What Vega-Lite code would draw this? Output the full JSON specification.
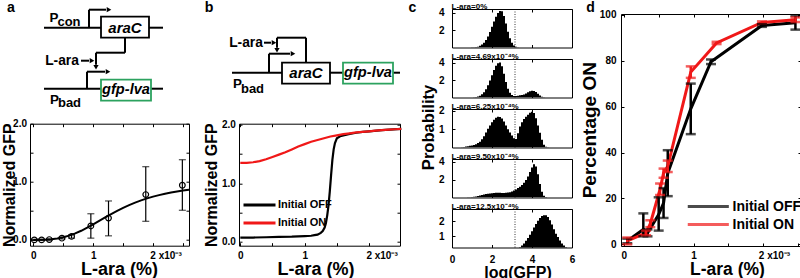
{
  "$schema": "https://vega.github.io/schema/vega-lite/v6.json",
  "background": "white",
  "padding": {"left": 0, "top": 0, "right": 0, "bottom": 0},
  "spacing": 0,
  "resolve": {"scale": {"color": "independent", "stroke": "independent", "size": "independent"}, "legend": {"color": "independent"}},
  "config": {
    "font": "Liberation Sans",
    "view": {"stroke": "black", "strokeWidth": 1},
    "axis": {"grid": false, "domain": false, "tickColor": "black", "tickSize": -3, "tickWidth": 1, "labelFont": "Liberation Sans", "labelFontSize": 10, "labelFontWeight": "bold", "labelColor": "black", "titleFont": "Liberation Sans", "titleFontWeight": "bold", "titleColor": "black", "labelOverlap": false, "labelFlush": false},
    "legend": {"labelFont": "Liberation Sans", "labelFontWeight": "bold", "labelColor": "black", "symbolStrokeWidth": 3, "padding": 0, "rowPadding": 0},
    "title": {"font": "Liberation Sans", "fontWeight": "bold", "color": "black"}
  },
  "datasets": {
    "seg": [
      {"panel": "a", "x": 43, "y": 27, "x2": 100, "y2": 27},
      {"panel": "a", "x": 148, "y": 27, "x2": 162, "y2": 27},
      {"panel": "a", "x": 88, "y": 27, "x2": 88, "y2": 9},
      {"panel": "a", "x": 88, "y": 9, "x2": 105, "y2": 9},
      {"panel": "a", "x": 124, "y": 37, "x2": 124, "y2": 52},
      {"panel": "a", "x": 124, "y": 52, "x2": 95, "y2": 52},
      {"panel": "a", "x": 95, "y": 52, "x2": 95, "y2": 64},
      {"panel": "a", "x": 80, "y": 60, "x2": 88, "y2": 60},
      {"panel": "a", "x": 86, "y": 88, "x2": 86, "y2": 71},
      {"panel": "a", "x": 86, "y": 71, "x2": 104, "y2": 71},
      {"panel": "a", "x": 43, "y": 88, "x2": 100, "y2": 88},
      {"panel": "a", "x": 150, "y": 88, "x2": 162, "y2": 88},
      {"panel": "b", "x": 230, "y": 72, "x2": 280, "y2": 72},
      {"panel": "b", "x": 328, "y": 72, "x2": 341, "y2": 72},
      {"panel": "b", "x": 391, "y": 72, "x2": 398, "y2": 72},
      {"panel": "b", "x": 267, "y": 72, "x2": 267, "y2": 53},
      {"panel": "b", "x": 267, "y": 53, "x2": 288, "y2": 53},
      {"panel": "b", "x": 304, "y": 62, "x2": 304, "y2": 37},
      {"panel": "b", "x": 304, "y": 37, "x2": 275, "y2": 37},
      {"panel": "b", "x": 275, "y": 37, "x2": 275, "y2": 47},
      {"panel": "b", "x": 262, "y": 42, "x2": 269, "y2": 42}
    ],
    "arrow": [
      {"panel": "a", "dir": "right", "x": 108, "y": 9},
      {"panel": "a", "dir": "right", "x": 91, "y": 60},
      {"panel": "a", "dir": "right", "x": 107, "y": 71},
      {"panel": "a", "dir": "down", "x": 95, "y": 66.5},
      {"panel": "b", "dir": "right", "x": 291, "y": 53},
      {"panel": "b", "dir": "right", "x": 272, "y": 42},
      {"panel": "b", "dir": "down", "x": 275, "y": 49.5}
    ],
    "box": [
      {"panel": "a", "gene": "araC", "x": 100, "y": 16, "x2": 148, "y2": 37},
      {"panel": "a", "gene": "gfp-lva", "x": 100, "y": 79, "x2": 150, "y2": 100},
      {"panel": "b", "gene": "araC", "x": 280, "y": 62, "x2": 328, "y2": 83},
      {"panel": "b", "gene": "gfp-lva", "x": 341, "y": 62, "x2": 391, "y2": 83}
    ],
    "label": [
      {"panel": "a", "kind": "letter", "x": 10, "y": 7, "t": "a"},
      {"panel": "a", "kind": "gene", "x": 124, "y": 27, "t": "araC"},
      {"panel": "a", "kind": "reporter", "x": 125, "y": 89.5, "t": "gfp-lva"},
      {"panel": "a", "kind": "inducer", "x": 61, "y": 60, "t": "L-ara"},
      {"panel": "a", "kind": "P", "x": 53, "y": 17, "t": "P"},
      {"panel": "a", "kind": "P", "x": 53.5, "y": 99, "t": "P"},
      {"panel": "a", "kind": "sub", "x": 68, "y": 21.5, "t": "con"},
      {"panel": "a", "kind": "sub", "x": 68.5, "y": 102.5, "t": "bad"},
      {"panel": "b", "kind": "letter", "x": 207, "y": 7, "t": "b"},
      {"panel": "b", "kind": "gene", "x": 304, "y": 72.5, "t": "araC"},
      {"panel": "b", "kind": "reporter", "x": 366, "y": 72.5, "t": "gfp-lva"},
      {"panel": "b", "kind": "inducer", "x": 244, "y": 42, "t": "L-ara"},
      {"panel": "b", "kind": "P", "x": 235.5, "y": 83, "t": "P"},
      {"panel": "b", "kind": "sub", "x": 250.5, "y": 88, "t": "bad"}
    ],
    "fitA": [
      {"x": 0, "y": 0}, {"x": 0.1, "y": 0.0004}, {"x": 0.2, "y": 0.003}, {"x": 0.3, "y": 0.01}, {"x": 0.4, "y": 0.023},
      {"x": 0.5, "y": 0.044}, {"x": 0.6, "y": 0.073}, {"x": 0.7, "y": 0.111}, {"x": 0.8, "y": 0.157}, {"x": 0.9, "y": 0.21},
      {"x": 1.0, "y": 0.267}, {"x": 1.1, "y": 0.327}, {"x": 1.2, "y": 0.386}, {"x": 1.3, "y": 0.445}, {"x": 1.4, "y": 0.5},
      {"x": 1.5, "y": 0.552}, {"x": 1.6, "y": 0.599}, {"x": 1.7, "y": 0.642}, {"x": 1.8, "y": 0.68}, {"x": 1.9, "y": 0.714},
      {"x": 2.0, "y": 0.745}, {"x": 2.1, "y": 0.771}, {"x": 2.2, "y": 0.795}, {"x": 2.3, "y": 0.816}, {"x": 2.4, "y": 0.834},
      {"x": 2.5, "y": 0.851}, {"x": 2.6, "y": 0.865}
    ],
    "ptsA": [
      {"x": 0.017, "y": 0.0, "lo": -0.01, "hi": 0.01},
      {"x": 0.139, "y": 0.0, "lo": -0.01, "hi": 0.01},
      {"x": 0.267, "y": 0.005, "lo": -0.005, "hi": 0.015},
      {"x": 0.478, "y": 0.03, "lo": 0.015, "hi": 0.045},
      {"x": 0.639, "y": 0.06, "lo": 0.03, "hi": 0.09},
      {"x": 0.961, "y": 0.24, "lo": 0.03, "hi": 0.45},
      {"x": 1.256, "y": 0.375, "lo": 0.07, "hi": 0.67},
      {"x": 1.878, "y": 0.78, "lo": 0.32, "hi": 1.26},
      {"x": 2.489, "y": 0.94, "lo": 0.51, "hi": 1.38}
    ],
    "curvesB": [
      {"series": "Initial OFF", "x": 0, "y": 0.07}, {"series": "Initial OFF", "x": 0.2, "y": 0.07}, {"series": "Initial OFF", "x": 0.4, "y": 0.075},
      {"series": "Initial OFF", "x": 0.6, "y": 0.08}, {"series": "Initial OFF", "x": 0.8, "y": 0.085}, {"series": "Initial OFF", "x": 1.0, "y": 0.095},
      {"series": "Initial OFF", "x": 1.1, "y": 0.1}, {"series": "Initial OFF", "x": 1.15, "y": 0.11}, {"series": "Initial OFF", "x": 1.2, "y": 0.12},
      {"series": "Initial OFF", "x": 1.25, "y": 0.15}, {"series": "Initial OFF", "x": 1.28, "y": 0.18}, {"series": "Initial OFF", "x": 1.31, "y": 0.24},
      {"series": "Initial OFF", "x": 1.33, "y": 0.32}, {"series": "Initial OFF", "x": 1.35, "y": 0.45}, {"series": "Initial OFF", "x": 1.37, "y": 0.62},
      {"series": "Initial OFF", "x": 1.39, "y": 0.86}, {"series": "Initial OFF", "x": 1.41, "y": 1.14}, {"series": "Initial OFF", "x": 1.43, "y": 1.4},
      {"series": "Initial OFF", "x": 1.45, "y": 1.58}, {"series": "Initial OFF", "x": 1.47, "y": 1.69}, {"series": "Initial OFF", "x": 1.5, "y": 1.77},
      {"series": "Initial OFF", "x": 1.55, "y": 1.805}, {"series": "Initial OFF", "x": 1.6, "y": 1.82}, {"series": "Initial OFF", "x": 1.7, "y": 1.845},
      {"series": "Initial OFF", "x": 1.8, "y": 1.865}, {"series": "Initial OFF", "x": 1.9, "y": 1.88}, {"series": "Initial OFF", "x": 2.0, "y": 1.89},
      {"series": "Initial OFF", "x": 2.2, "y": 1.91}, {"series": "Initial OFF", "x": 2.5, "y": 1.93},
      {"series": "Initial ON", "x": 0, "y": 1.35}, {"series": "Initial ON", "x": 0.1, "y": 1.35}, {"series": "Initial ON", "x": 0.2, "y": 1.36},
      {"series": "Initial ON", "x": 0.3, "y": 1.38}, {"series": "Initial ON", "x": 0.4, "y": 1.41}, {"series": "Initial ON", "x": 0.5, "y": 1.45},
      {"series": "Initial ON", "x": 0.6, "y": 1.49}, {"series": "Initial ON", "x": 0.7, "y": 1.53}, {"series": "Initial ON", "x": 0.8, "y": 1.58},
      {"series": "Initial ON", "x": 0.9, "y": 1.63}, {"series": "Initial ON", "x": 1.0, "y": 1.67}, {"series": "Initial ON", "x": 1.1, "y": 1.71},
      {"series": "Initial ON", "x": 1.2, "y": 1.74}, {"series": "Initial ON", "x": 1.3, "y": 1.77}, {"series": "Initial ON", "x": 1.4, "y": 1.8},
      {"series": "Initial ON", "x": 1.5, "y": 1.82}, {"series": "Initial ON", "x": 1.6, "y": 1.84}, {"series": "Initial ON", "x": 1.7, "y": 1.855},
      {"series": "Initial ON", "x": 1.8, "y": 1.87}, {"series": "Initial ON", "x": 1.9, "y": 1.88}, {"series": "Initial ON", "x": 2.0, "y": 1.89},
      {"series": "Initial ON", "x": 2.1, "y": 1.9}, {"series": "Initial ON", "x": 2.2, "y": 1.91}, {"series": "Initial ON", "x": 2.3, "y": 1.92},
      {"series": "Initial ON", "x": 2.4, "y": 1.925}, {"series": "Initial ON", "x": 2.5, "y": 1.93}
    ],
    "thresh": [{"t": 3.15}],
    "hist": [
      {"panel": 1, "x": 0.8, "p": 0}, {"panel": 1, "x": 0.9, "p": 0.01}, {"panel": 1, "x": 1.0, "p": 0.02}, {"panel": 1, "x": 1.1, "p": 0.04},
      {"panel": 1, "x": 1.2, "p": 0.06}, {"panel": 1, "x": 1.3, "p": 0.1}, {"panel": 1, "x": 1.4, "p": 0.19}, {"panel": 1, "x": 1.5, "p": 0.33},
      {"panel": 1, "x": 1.6, "p": 0.54}, {"panel": 1, "x": 1.7, "p": 0.85}, {"panel": 1, "x": 1.8, "p": 1.27}, {"panel": 1, "x": 1.9, "p": 1.78},
      {"panel": 1, "x": 2.0, "p": 2.37}, {"panel": 1, "x": 2.1, "p": 2.97}, {"panel": 1, "x": 2.2, "p": 3.52}, {"panel": 1, "x": 2.3, "p": 3.94},
      {"panel": 1, "x": 2.4, "p": 4.18}, {"panel": 1, "x": 2.5, "p": 4.13}, {"panel": 1, "x": 2.6, "p": 3.6}, {"panel": 1, "x": 2.7, "p": 2.74},
      {"panel": 1, "x": 2.8, "p": 1.81}, {"panel": 1, "x": 2.9, "p": 1.05}, {"panel": 1, "x": 3.0, "p": 0.53}, {"panel": 1, "x": 3.1, "p": 0.23},
      {"panel": 1, "x": 3.2, "p": 0.09}, {"panel": 1, "x": 3.3, "p": 0.03}, {"panel": 1, "x": 3.4, "p": 0.01}, {"panel": 1, "x": 3.5, "p": 0},
      {"panel": 2, "x": 0.9, "p": 0}, {"panel": 2, "x": 1.0, "p": 0.01}, {"panel": 2, "x": 1.1, "p": 0.03}, {"panel": 2, "x": 1.2, "p": 0.06},
      {"panel": 2, "x": 1.3, "p": 0.11}, {"panel": 2, "x": 1.4, "p": 0.2}, {"panel": 2, "x": 1.5, "p": 0.36}, {"panel": 2, "x": 1.6, "p": 0.6},
      {"panel": 2, "x": 1.7, "p": 0.94}, {"panel": 2, "x": 1.8, "p": 1.4}, {"panel": 2, "x": 1.9, "p": 1.95}, {"panel": 2, "x": 2.0, "p": 2.55},
      {"panel": 2, "x": 2.1, "p": 3.13}, {"panel": 2, "x": 2.2, "p": 3.62}, {"panel": 2, "x": 2.3, "p": 3.92}, {"panel": 2, "x": 2.4, "p": 3.99},
      {"panel": 2, "x": 2.5, "p": 3.57}, {"panel": 2, "x": 2.6, "p": 2.72}, {"panel": 2, "x": 2.7, "p": 1.76}, {"panel": 2, "x": 2.8, "p": 1.0},
      {"panel": 2, "x": 2.9, "p": 0.55}, {"panel": 2, "x": 3.0, "p": 0.3}, {"panel": 2, "x": 3.1, "p": 0.18}, {"panel": 2, "x": 3.2, "p": 0.17},
      {"panel": 2, "x": 3.3, "p": 0.2}, {"panel": 2, "x": 3.4, "p": 0.25}, {"panel": 2, "x": 3.5, "p": 0.3}, {"panel": 2, "x": 3.6, "p": 0.35},
      {"panel": 2, "x": 3.7, "p": 0.45}, {"panel": 2, "x": 3.8, "p": 0.6}, {"panel": 2, "x": 3.9, "p": 0.72}, {"panel": 2, "x": 4.0, "p": 0.78},
      {"panel": 2, "x": 4.1, "p": 0.75}, {"panel": 2, "x": 4.2, "p": 0.62}, {"panel": 2, "x": 4.3, "p": 0.42}, {"panel": 2, "x": 4.4, "p": 0.22},
      {"panel": 2, "x": 4.5, "p": 0.1}, {"panel": 2, "x": 4.6, "p": 0.04}, {"panel": 2, "x": 4.7, "p": 0.01}, {"panel": 2, "x": 4.8, "p": 0},
      {"panel": 3, "x": 0.4, "p": 0}, {"panel": 3, "x": 0.5, "p": 0.02}, {"panel": 3, "x": 0.6, "p": 0.03}, {"panel": 3, "x": 0.7, "p": 0.05},
      {"panel": 3, "x": 0.8, "p": 0.07}, {"panel": 3, "x": 0.9, "p": 0.09}, {"panel": 3, "x": 1.0, "p": 0.11}, {"panel": 3, "x": 1.1, "p": 0.14},
      {"panel": 3, "x": 1.2, "p": 0.18}, {"panel": 3, "x": 1.3, "p": 0.24}, {"panel": 3, "x": 1.4, "p": 0.32}, {"panel": 3, "x": 1.5, "p": 0.45},
      {"panel": 3, "x": 1.6, "p": 0.62}, {"panel": 3, "x": 1.7, "p": 0.82}, {"panel": 3, "x": 1.8, "p": 1.02}, {"panel": 3, "x": 1.9, "p": 1.2},
      {"panel": 3, "x": 2.0, "p": 1.38}, {"panel": 3, "x": 2.1, "p": 1.52}, {"panel": 3, "x": 2.2, "p": 1.62}, {"panel": 3, "x": 2.3, "p": 1.68},
      {"panel": 3, "x": 2.4, "p": 1.66}, {"panel": 3, "x": 2.5, "p": 1.58}, {"panel": 3, "x": 2.6, "p": 1.42}, {"panel": 3, "x": 2.7, "p": 1.2},
      {"panel": 3, "x": 2.8, "p": 1.0}, {"panel": 3, "x": 2.9, "p": 0.82}, {"panel": 3, "x": 3.0, "p": 0.65}, {"panel": 3, "x": 3.1, "p": 0.5},
      {"panel": 3, "x": 3.2, "p": 0.47}, {"panel": 3, "x": 3.3, "p": 0.78}, {"panel": 3, "x": 3.4, "p": 1.15}, {"panel": 3, "x": 3.5, "p": 1.38},
      {"panel": 3, "x": 3.6, "p": 1.55}, {"panel": 3, "x": 3.7, "p": 1.68}, {"panel": 3, "x": 3.8, "p": 1.78}, {"panel": 3, "x": 3.9, "p": 1.9},
      {"panel": 3, "x": 4.0, "p": 1.95}, {"panel": 3, "x": 4.1, "p": 1.88}, {"panel": 3, "x": 4.2, "p": 1.6}, {"panel": 3, "x": 4.3, "p": 1.2},
      {"panel": 3, "x": 4.4, "p": 0.8}, {"panel": 3, "x": 4.5, "p": 0.42}, {"panel": 3, "x": 4.6, "p": 0.15}, {"panel": 3, "x": 4.7, "p": 0.04},
      {"panel": 3, "x": 4.8, "p": 0.01}, {"panel": 3, "x": 4.9, "p": 0},
      {"panel": 4, "x": 0.7, "p": 0}, {"panel": 4, "x": 0.8, "p": 0.02}, {"panel": 4, "x": 0.9, "p": 0.03}, {"panel": 4, "x": 1.0, "p": 0.05},
      {"panel": 4, "x": 1.1, "p": 0.08}, {"panel": 4, "x": 1.2, "p": 0.12}, {"panel": 4, "x": 1.3, "p": 0.17}, {"panel": 4, "x": 1.4, "p": 0.22},
      {"panel": 4, "x": 1.5, "p": 0.28}, {"panel": 4, "x": 1.6, "p": 0.33}, {"panel": 4, "x": 1.7, "p": 0.38}, {"panel": 4, "x": 1.8, "p": 0.42},
      {"panel": 4, "x": 1.9, "p": 0.45}, {"panel": 4, "x": 2.0, "p": 0.47}, {"panel": 4, "x": 2.1, "p": 0.5}, {"panel": 4, "x": 2.2, "p": 0.52},
      {"panel": 4, "x": 2.3, "p": 0.53}, {"panel": 4, "x": 2.4, "p": 0.52}, {"panel": 4, "x": 2.5, "p": 0.5}, {"panel": 4, "x": 2.6, "p": 0.5},
      {"panel": 4, "x": 2.7, "p": 0.52}, {"panel": 4, "x": 2.8, "p": 0.55}, {"panel": 4, "x": 2.9, "p": 0.6}, {"panel": 4, "x": 3.0, "p": 0.68},
      {"panel": 4, "x": 3.1, "p": 0.78}, {"panel": 4, "x": 3.2, "p": 0.9}, {"panel": 4, "x": 3.3, "p": 1.05}, {"panel": 4, "x": 3.4, "p": 1.2},
      {"panel": 4, "x": 3.5, "p": 1.4}, {"panel": 4, "x": 3.6, "p": 1.65}, {"panel": 4, "x": 3.7, "p": 1.95}, {"panel": 4, "x": 3.8, "p": 2.35},
      {"panel": 4, "x": 3.9, "p": 2.85}, {"panel": 4, "x": 4.0, "p": 3.35}, {"panel": 4, "x": 4.1, "p": 3.7}, {"panel": 4, "x": 4.2, "p": 3.45},
      {"panel": 4, "x": 4.3, "p": 2.6}, {"panel": 4, "x": 4.4, "p": 1.5}, {"panel": 4, "x": 4.5, "p": 0.65}, {"panel": 4, "x": 4.6, "p": 0.2},
      {"panel": 4, "x": 4.7, "p": 0.05}, {"panel": 4, "x": 4.8, "p": 0},
      {"panel": 5, "x": 2.9, "p": 0.04}, {"panel": 5, "x": 3.0, "p": 0.06}, {"panel": 5, "x": 3.1, "p": 0.09}, {"panel": 5, "x": 3.2, "p": 0.13},
      {"panel": 5, "x": 3.3, "p": 0.19}, {"panel": 5, "x": 3.4, "p": 0.27}, {"panel": 5, "x": 3.5, "p": 0.38}, {"panel": 5, "x": 3.6, "p": 0.52},
      {"panel": 5, "x": 3.7, "p": 0.69}, {"panel": 5, "x": 3.8, "p": 0.88}, {"panel": 5, "x": 3.9, "p": 1.1}, {"panel": 5, "x": 4.0, "p": 1.33},
      {"panel": 5, "x": 4.1, "p": 1.58}, {"panel": 5, "x": 4.2, "p": 1.81}, {"panel": 5, "x": 4.3, "p": 2.02}, {"panel": 5, "x": 4.4, "p": 2.2},
      {"panel": 5, "x": 4.5, "p": 2.33}, {"panel": 5, "x": 4.6, "p": 2.39}, {"panel": 5, "x": 4.7, "p": 2.39}, {"panel": 5, "x": 4.8, "p": 2.27},
      {"panel": 5, "x": 4.9, "p": 2.06}, {"panel": 5, "x": 5.0, "p": 1.77}, {"panel": 5, "x": 5.1, "p": 1.46}, {"panel": 5, "x": 5.2, "p": 1.16},
      {"panel": 5, "x": 5.3, "p": 0.95}, {"panel": 5, "x": 5.4, "p": 0.72}, {"panel": 5, "x": 5.5, "p": 0.52}, {"panel": 5, "x": 5.6, "p": 0.38},
      {"panel": 5, "x": 5.7, "p": 0.27}, {"panel": 5, "x": 5.8, "p": 0.2}, {"panel": 5, "x": 5.9, "p": 0.14}, {"panel": 5, "x": 6.0, "p": 0.1}
    ],
    "pctD": [
      {"series": "Initial OFF", "x": 0.05, "y": 1.5, "lo": 0.5, "hi": 2.5},
      {"series": "Initial OFF", "x": 0.28, "y": 6.5, "lo": 3.5, "hi": 13.5},
      {"series": "Initial OFF", "x": 0.34, "y": 5, "lo": 3.5, "hi": 6.5},
      {"series": "Initial OFF", "x": 0.5, "y": 13, "lo": 6, "hi": 20.5},
      {"series": "Initial OFF", "x": 0.57, "y": 18, "lo": 11.5, "hi": 24.5},
      {"series": "Initial OFF", "x": 0.63, "y": 31, "lo": 21, "hi": 41},
      {"series": "Initial OFF", "x": 0.96, "y": 59, "lo": 48, "hi": 70},
      {"series": "Initial OFF", "x": 1.25, "y": 79.5, "lo": 78.5, "hi": 80.5},
      {"series": "Initial OFF", "x": 1.98, "y": 95.3, "lo": 94.7, "hi": 95.9},
      {"series": "Initial OFF", "x": 2.46, "y": 96.5, "lo": 93.5, "hi": 99.5},
      {"series": "Initial ON", "x": 0.05, "y": 1.5, "lo": 0, "hi": 3},
      {"series": "Initial ON", "x": 0.32, "y": 5, "lo": 4, "hi": 6},
      {"series": "Initial ON", "x": 0.38, "y": 9, "lo": 7.5, "hi": 10.5},
      {"series": "Initial ON", "x": 0.52, "y": 24, "lo": 21.5, "hi": 26.5},
      {"series": "Initial ON", "x": 0.57, "y": 31, "lo": 29, "hi": 33},
      {"series": "Initial ON", "x": 0.63, "y": 34, "lo": 31.5, "hi": 36.5},
      {"series": "Initial ON", "x": 0.96, "y": 75, "lo": 72.5, "hi": 77.5},
      {"series": "Initial ON", "x": 1.33, "y": 87.7, "lo": 87.2, "hi": 88.2},
      {"series": "Initial ON", "x": 1.98, "y": 96.6, "lo": 96.1, "hi": 97.1},
      {"series": "Initial ON", "x": 2.46, "y": 97.8, "lo": 96.8, "hi": 98.8}
    ]
  },
  "hconcat": [
    {
      "bounds": "flush",
      "spacing": 14.7,
      "vconcat": [
        {
          "width": 159, "height": 100, "view": {"stroke": null},
          "encoding": {
            "x": {"field": "x", "type": "quantitative", "scale": {"domain": [29, 188], "nice": false, "zero": false}, "axis": null},
            "y": {"field": "y", "type": "quantitative", "scale": {"domain": [8.3, 108.3], "nice": false, "zero": false, "reverse": true}, "axis": null}
          },
          "layer": [
            {"data": {"name": "seg"}, "transform": [{"filter": "datum.panel == 'a'"}], "mark": {"type": "rule", "color": "black", "strokeWidth": 2}, "encoding": {"x2": {"field": "x2"}, "y2": {"field": "y2"}}},
            {"data": {"name": "box"}, "transform": [{"filter": "datum.panel == 'a'"}], "mark": {"type": "rect", "fill": "white", "strokeWidth": 1.8}, "encoding": {"x2": {"field": "x2"}, "y2": {"field": "y2"}, "stroke": {"field": "gene", "type": "nominal", "scale": {"domain": ["araC", "gfp-lva"], "range": ["black", "#2ca25f"]}, "legend": null}}},
            {"data": {"name": "arrow"}, "transform": [{"filter": "datum.panel == 'a' && datum.dir == 'right'"}], "mark": {"type": "point", "shape": "triangle-right", "filled": true, "color": "black", "size": 28, "opacity": 1}},
            {"data": {"name": "arrow"}, "transform": [{"filter": "datum.panel == 'a' && datum.dir == 'down'"}], "mark": {"type": "point", "shape": "triangle-down", "filled": true, "color": "black", "size": 28, "opacity": 1}},
            {"data": {"name": "label"}, "transform": [{"filter": "datum.panel == 'a' && (datum.kind == 'gene' || datum.kind == 'reporter')"}], "mark": {"type": "text", "color": "black", "fontWeight": "bold", "fontStyle": "italic", "baseline": "middle"}, "encoding": {"text": {"field": "t"}, "size": {"field": "kind", "type": "ordinal", "scale": {"domain": ["gene", "reporter"], "range": [15, 13]}, "legend": null}}},
            {"data": {"name": "label"}, "transform": [{"filter": "datum.panel == 'a' && datum.kind != 'gene' && datum.kind != 'reporter'"}], "mark": {"type": "text", "color": "black", "fontWeight": "bold", "baseline": "middle"}, "encoding": {"text": {"field": "t"}, "size": {"field": "kind", "type": "ordinal", "scale": {"domain": ["letter", "inducer", "P", "sub"], "range": [14, 13, 13, 8.5]}, "legend": null}}}
          ]
        },
        {
          "width": 159, "height": 122,
          "resolve": {"axis": {"x": "independent", "y": "independent"}},
          "layer": [
            {"data": {"name": "fitA"}, "mark": {"type": "line", "color": "black", "strokeWidth": 2},
             "encoding": {
               "x": {"field": "x", "type": "quantitative", "scale": {"domain": [-0.055, 2.6], "nice": false, "zero": false},
                     "axis": {"title": "L-ara (%)", "titleFontSize": 18, "titleX": 89, "titleY": 15, "titleBaseline": "top", "values": [0, 0.5, 1, 1.5, 2, 2.5],
                              "labelExpr": "datum.value == 0 ? '0' : datum.value == 1 ? '1' : datum.value == 2 ? '2 x10⁻³' : ''",
                              "labelAlign": {"condition": {"test": "datum.value == 2", "value": "left"}, "value": "center"},
                              "labelOffset": {"condition": {"test": "datum.value == 2", "value": -3.2}, "value": 0},
                              "labelPadding": 8}},
               "y": {"field": "y", "type": "quantitative", "scale": {"domain": [-0.1, 2], "nice": false, "zero": false},
                     "axis": {"title": "Normalized GFP", "titleFontSize": 16, "titleX": -13, "titleY": 61, "values": [0, 0.5, 1, 1.5, 2], "labelExpr": "datum.value % 1 == 0 ? datum.label : ''", "labelPadding": 6.5}}
             }},
            {"data": {"name": "ptsA"}, "mark": {"type": "rule", "color": "black", "strokeWidth": 1.2},
             "encoding": {"x": {"field": "x", "type": "quantitative", "axis": {"orient": "top", "values": [0, 0.5, 1, 1.5, 2, 2.5], "labels": false, "title": null}}, "y": {"field": "lo", "type": "quantitative", "axis": null}, "y2": {"field": "hi"}}},
            {"data": {"name": "ptsA"}, "mark": {"type": "tick", "orient": "horizontal", "color": "black", "size": 7, "thickness": 1.2},
             "encoding": {"x": {"field": "x", "type": "quantitative", "axis": null}, "y": {"field": "lo", "type": "quantitative", "axis": {"orient": "right", "values": [0, 0.5, 1, 1.5, 2], "labels": false, "title": null}}}},
            {"data": {"name": "ptsA"}, "mark": {"type": "tick", "orient": "horizontal", "color": "black", "size": 7, "thickness": 1.2},
             "encoding": {"x": {"field": "x", "type": "quantitative", "axis": null}, "y": {"field": "hi", "type": "quantitative", "axis": null}}},
            {"data": {"name": "ptsA"}, "mark": {"type": "point", "shape": "circle", "filled": false, "color": "black", "strokeWidth": 1.2, "size": 32, "opacity": 1},
             "encoding": {"x": {"field": "x", "type": "quantitative", "axis": null}, "y": {"field": "y", "type": "quantitative", "axis": null}}}
          ]
        },
        {"width": 172, "height": 1, "view": {"stroke": null}, "data": {"values": [{"v": 0}]}, "mark": {"type": "point", "opacity": 0}}
      ]
    },
    {
      "bounds": "flush",
      "spacing": 14.7,
      "resolve": {"scale": {"color": "independent"}, "legend": {"color": "independent"}},
      "vconcat": [
        {
          "width": 161, "height": 100, "view": {"stroke": null},
          "encoding": {
            "x": {"field": "x", "type": "quantitative", "scale": {"domain": [237, 398], "nice": false, "zero": false}, "axis": null},
            "y": {"field": "y", "type": "quantitative", "scale": {"domain": [8.3, 108.3], "nice": false, "zero": false, "reverse": true}, "axis": null}
          },
          "layer": [
            {"data": {"name": "seg"}, "transform": [{"filter": "datum.panel == 'b'"}], "mark": {"type": "rule", "color": "black", "strokeWidth": 2}, "encoding": {"x2": {"field": "x2"}, "y2": {"field": "y2"}}},
            {"data": {"name": "box"}, "transform": [{"filter": "datum.panel == 'b'"}], "mark": {"type": "rect", "fill": "white", "strokeWidth": 1.8}, "encoding": {"x2": {"field": "x2"}, "y2": {"field": "y2"}, "stroke": {"field": "gene", "type": "nominal", "scale": {"domain": ["araC", "gfp-lva"], "range": ["black", "#2ca25f"]}, "legend": null}}},
            {"data": {"name": "arrow"}, "transform": [{"filter": "datum.panel == 'b' && datum.dir == 'right'"}], "mark": {"type": "point", "shape": "triangle-right", "filled": true, "color": "black", "size": 28, "opacity": 1}},
            {"data": {"name": "arrow"}, "transform": [{"filter": "datum.panel == 'b' && datum.dir == 'down'"}], "mark": {"type": "point", "shape": "triangle-down", "filled": true, "color": "black", "size": 28, "opacity": 1}},
            {"data": {"name": "label"}, "transform": [{"filter": "datum.panel == 'b' && (datum.kind == 'gene' || datum.kind == 'reporter')"}], "mark": {"type": "text", "color": "black", "fontWeight": "bold", "fontStyle": "italic", "baseline": "middle"}, "encoding": {"text": {"field": "t"}, "size": {"field": "kind", "type": "ordinal", "scale": {"domain": ["gene", "reporter"], "range": [15, 13]}, "legend": null}}},
            {"data": {"name": "label"}, "transform": [{"filter": "datum.panel == 'b' && datum.kind != 'gene' && datum.kind != 'reporter'"}], "mark": {"type": "text", "color": "black", "fontWeight": "bold", "baseline": "middle"}, "encoding": {"text": {"field": "t"}, "size": {"field": "kind", "type": "ordinal", "scale": {"domain": ["letter", "inducer", "P", "sub"], "range": [14, 13, 13, 8.5]}, "legend": null}}}
          ]
        },
        {
          "width": 161, "height": 122,
          "data": {"name": "curvesB"},
          "resolve": {"axis": {"x": "independent", "y": "independent"}},
          "layer": [
            {"transform": [{"filter": "datum.series == 'Initial OFF'"}],
             "mark": {"type": "line", "strokeWidth": 2.2},
             "encoding": {
               "x": {"field": "x", "type": "quantitative", "scale": {"domain": [-0.02, 2.48], "nice": false, "zero": false},
                     "axis": {"title": "L-ara (%)", "titleFontSize": 18, "titleX": 76.5, "titleY": 15, "titleBaseline": "top", "values": [0, 0.5, 1, 1.5, 2, 2.5],
                              "labelExpr": "datum.value == 0 ? '0' : datum.value == 1 ? '1' : datum.value == 2 ? '2 x10⁻³' : ''",
                              "labelAlign": {"condition": {"test": "datum.value == 2", "value": "left"}, "value": "center"},
                              "labelOffset": {"condition": {"test": "datum.value == 2", "value": -3.2}, "value": 0},
                              "labelPadding": 8}},
               "y": {"field": "y", "type": "quantitative", "scale": {"domain": [-0.07, 2.02], "nice": false, "zero": false},
                     "axis": {"title": "Normalized GFP", "titleFontSize": 16, "titleX": -20, "titleY": 61, "values": [0, 0.5, 1, 1.5, 2], "labelExpr": "datum.value % 1 == 0 ? datum.label : ''", "labelPadding": 6.7}},
               "color": {"field": "series", "type": "nominal", "scale": {"domain": ["Initial OFF", "Initial ON"], "range": ["black", "#f01818"]},
                         "legend": {"orient": "none", "legendX": 9, "legendY": 69.7, "title": null, "labelFontSize": 11, "symbolType": "M-1.6,0H1.6", "symbolSize": 400, "symbolStrokeWidth": 3, "labelOffset": 7, "rowPadding": 0}}
             }},
            {"transform": [{"filter": "datum.series == 'Initial ON'"}],
             "mark": {"type": "line", "strokeWidth": 2.2},
             "encoding": {
               "x": {"field": "x", "type": "quantitative", "axis": {"orient": "top", "values": [0, 0.5, 1, 1.5, 2, 2.5], "labels": false, "title": null}},
               "y": {"field": "y", "type": "quantitative", "axis": {"orient": "right", "values": [0, 0.5, 1, 1.5, 2], "labels": false, "title": null}},
               "color": {"field": "series", "type": "nominal"}
             }}
          ]
        },
        {"width": 167.1, "height": 1, "view": {"stroke": null}, "data": {"values": [{"v": 0}]}, "mark": {"type": "point", "opacity": 0}}
      ]
    },
    {
      "bounds": "flush",
      "spacing": 11,
      "vconcat": [
        {
          "width": 120, "height": 38.5,
          "resolve": {"axis": {"x": "independent"}},
          "layer": [
            {"data": {"name": "hist"}, "transform": [{"filter": "datum.panel == 1"}], "mark": {"type": "area", "color": "black", "interpolate": "step", "clip": true, "opacity": 1},
             "encoding": {
               "x": {"field": "x", "type": "quantitative", "scale": {"domain": [0, 6], "nice": false, "zero": false}, "axis": {"values": [0, 2, 4, 6], "labels": false, "title": null}},
               "y": {"field": "p", "type": "quantitative", "scale": {"domain": [0, 4.4], "nice": false}, "axis": {"values": [2, 4], "labelPadding": 11, "title": "c", "titleAngle": 0, "titleX": -40, "titleY": -1.3, "titleAlign": "center", "titleBaseline": "middle", "titleFontSize": 14}}
             }},
            {"data": {"name": "thresh"}, "mark": {"type": "rule", "color": "black", "strokeWidth": 0.8, "strokeDash": [1, 1.5]},
             "encoding": {"x": {"field": "t", "type": "quantitative", "axis": {"orient": "top", "values": [0, 2, 4, 6], "labels": false, "title": "L-ara=0%", "titleFontSize": 8, "titleX": -1, "titleY": 1, "titleAlign": "left", "titleBaseline": "bottom"}}}}
          ]
        },
        {
          "width": 120, "height": 38.5,
          "resolve": {"axis": {"x": "independent"}},
          "layer": [
            {"data": {"name": "hist"}, "transform": [{"filter": "datum.panel == 2"}], "mark": {"type": "area", "color": "black", "interpolate": "step", "clip": true, "opacity": 1},
             "encoding": {
               "x": {"field": "x", "type": "quantitative", "scale": {"domain": [0, 6], "nice": false, "zero": false}, "axis": {"values": [0, 2, 4, 6], "labels": false, "title": null}},
               "y": {"field": "p", "type": "quantitative", "scale": {"domain": [0, 4.4], "nice": false}, "axis": {"values": [2, 4], "labelPadding": 11, "title": null}}
             }},
            {"data": {"name": "thresh"}, "mark": {"type": "rule", "color": "black", "strokeWidth": 0.8, "strokeDash": [1, 1.5]},
             "encoding": {"x": {"field": "t", "type": "quantitative", "axis": {"orient": "top", "values": [0, 2, 4, 6], "labels": false, "title": "L-ara=4.69x10⁻⁴%", "titleFontSize": 8, "titleX": -1, "titleY": 1, "titleAlign": "left", "titleBaseline": "bottom"}}}}
          ]
        },
        {
          "width": 120, "height": 38.5,
          "resolve": {"axis": {"x": "independent"}},
          "layer": [
            {"data": {"name": "hist"}, "transform": [{"filter": "datum.panel == 3"}], "mark": {"type": "area", "color": "black", "interpolate": "step", "clip": true, "opacity": 1},
             "encoding": {
               "x": {"field": "x", "type": "quantitative", "scale": {"domain": [0, 6], "nice": false, "zero": false}, "axis": {"values": [0, 2, 4, 6], "labels": false, "title": null}},
               "y": {"field": "p", "type": "quantitative", "scale": {"domain": [0, 2.1], "nice": false}, "axis": {"values": [1, 2], "labelPadding": 11, "title": "Probability", "titleFontSize": 16.5, "titleX": -16, "titleY": 18}}
             }},
            {"data": {"name": "thresh"}, "mark": {"type": "rule", "color": "black", "strokeWidth": 0.8, "strokeDash": [1, 1.5]},
             "encoding": {"x": {"field": "t", "type": "quantitative", "axis": {"orient": "top", "values": [0, 2, 4, 6], "labels": false, "title": "L-ara=6.25x10⁻⁴%", "titleFontSize": 8, "titleX": -1, "titleY": 1, "titleAlign": "left", "titleBaseline": "bottom"}}}}
          ]
        },
        {
          "width": 120, "height": 38.5,
          "resolve": {"axis": {"x": "independent"}},
          "layer": [
            {"data": {"name": "hist"}, "transform": [{"filter": "datum.panel == 4"}], "mark": {"type": "area", "color": "black", "interpolate": "step", "clip": true, "opacity": 1},
             "encoding": {
               "x": {"field": "x", "type": "quantitative", "scale": {"domain": [0, 6], "nice": false, "zero": false}, "axis": {"values": [0, 2, 4, 6], "labels": false, "title": null}},
               "y": {"field": "p", "type": "quantitative", "scale": {"domain": [0, 4.3], "nice": false}, "axis": {"values": [2, 4], "labelPadding": 11, "title": null}}
             }},
            {"data": {"name": "thresh"}, "mark": {"type": "rule", "color": "black", "strokeWidth": 0.8, "strokeDash": [1, 1.5]},
             "encoding": {"x": {"field": "t", "type": "quantitative", "axis": {"orient": "top", "values": [0, 2, 4, 6], "labels": false, "title": "L-ara=9.50x10⁻⁴%", "titleFontSize": 8, "titleX": -1, "titleY": 1, "titleAlign": "left", "titleBaseline": "bottom"}}}}
          ]
        },
        {
          "width": 120, "height": 38.5,
          "resolve": {"axis": {"x": "independent"}},
          "layer": [
            {"data": {"name": "hist"}, "transform": [{"filter": "datum.panel == 5"}], "mark": {"type": "area", "color": "black", "interpolate": "step", "clip": true, "opacity": 1},
             "encoding": {
               "x": {"field": "x", "type": "quantitative", "scale": {"domain": [0, 6], "nice": false, "zero": false}, "axis": {"values": [0, 2, 4, 6], "labelPadding": 9.5, "title": "log(GFP)", "titleFontSize": 16, "titleX": 65.5, "titleY": 16.8, "titleBaseline": "top"}},
               "y": {"field": "p", "type": "quantitative", "scale": {"domain": [0.25, 2.8], "nice": false, "zero": false}, "axis": {"values": [1, 2], "labelPadding": 11, "title": null}}
             }},
            {"data": {"name": "thresh"}, "mark": {"type": "rule", "color": "black", "strokeWidth": 0.8, "strokeDash": [1, 1.5]},
             "encoding": {"x": {"field": "t", "type": "quantitative", "axis": {"orient": "top", "values": [0, 2, 4, 6], "labels": false, "title": "L-ara=12.5x10⁻⁴%", "titleFontSize": 8, "titleX": -1, "titleY": 1, "titleAlign": "left", "titleBaseline": "bottom"}}}}
          ]
        },
        {"width": 127, "height": 1, "view": {"stroke": null}, "data": {"values": [{"v": 0}]}, "mark": {"type": "point", "opacity": 0}}
      ]
    },
    {
      "bounds": "flush",
      "spacing": 4,
      "resolve": {"scale": {"color": "independent"}, "legend": {"color": "independent"}},
      "vconcat": [
        {"width": 180, "height": 1, "view": {"stroke": null}, "data": {"values": [{"v": 0}]}, "mark": {"type": "point", "opacity": 0}},
        {
          "width": 180, "height": 232,
          "data": {"name": "pctD"},
          "resolve": {"axis": {"x": "independent", "y": "independent"}},
          "layer": [
            {"mark": {"type": "line", "strokeWidth": 3},
             "encoding": {
               "x": {"field": "x", "type": "quantitative", "scale": {"domain": [-0.04, 2.54], "nice": false, "zero": false},
                     "axis": {"title": "L-ara (%)", "titleFontSize": 17.5, "titleX": 106, "titleY": 14, "titleBaseline": "top", "values": [0, 0.5, 1, 1.5, 2, 2.5],
                              "labelExpr": "datum.value == 0 ? '0' : datum.value == 1 ? '1' : datum.value == 2 ? '2 x10⁻³' : ''",
                              "labelAlign": {"condition": {"test": "datum.value == 2", "value": "left"}, "value": "center"},
                              "labelOffset": {"condition": {"test": "datum.value == 2", "value": -5}, "value": 0},
                              "labelPadding": 7}},
               "y": {"field": "y", "type": "quantitative", "scale": {"domain": [-0.7, 100.3], "nice": false, "zero": false},
                     "axis": {"title": "Percentage ON", "titleFontSize": 19, "titleX": -22, "titleY": 115.7, "values": [0, 20, 40, 60, 80, 100], "labelPadding": 8}},
               "color": {"field": "series", "type": "nominal", "scale": {"domain": ["Initial OFF", "Initial ON"], "range": ["black", "#f01818"]},
                         "legend": {"orient": "none", "legendX": 76.8, "legendY": 182, "title": null, "labelFontSize": 14, "symbolType": "M-2.36,0H2.36", "symbolSize": 303, "symbolStrokeWidth": 3, "labelOffset": 13.8, "rowPadding": 0}}
             }},
            {"mark": {"type": "rule", "strokeWidth": 2.5},
             "encoding": {"x": {"field": "x", "type": "quantitative", "axis": {"orient": "top", "values": [0, 0.5, 1, 1.5, 2, 2.5], "labels": false, "title": "d", "titleAngle": 0, "titleFontSize": 14, "titleX": -31, "titleY": -6.3, "titleAlign": "center", "titleBaseline": "middle"}},
                          "y": {"field": "lo", "type": "quantitative", "axis": null}, "y2": {"field": "hi"}, "color": {"field": "series", "type": "nominal"}}},
            {"mark": {"type": "tick", "orient": "horizontal", "size": 10, "thickness": 2.5},
             "encoding": {"x": {"field": "x", "type": "quantitative", "axis": null}, "y": {"field": "lo", "type": "quantitative", "axis": {"orient": "right", "values": [0, 20, 40, 60, 80, 100], "labels": false, "title": null}}, "color": {"field": "series", "type": "nominal"}}},
            {"mark": {"type": "tick", "orient": "horizontal", "size": 10, "thickness": 2.5},
             "encoding": {"x": {"field": "x", "type": "quantitative", "axis": null}, "y": {"field": "hi", "type": "quantitative", "axis": null}, "color": {"field": "series", "type": "nominal"}}}
          ]
        }
      ]
    }
  ]
}
